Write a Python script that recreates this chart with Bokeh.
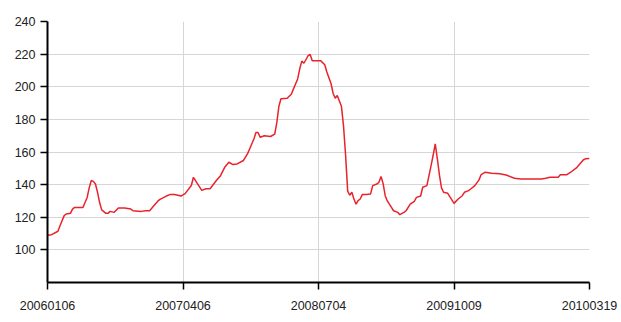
from bokeh.plotting import figure
from bokeh.models import FixedTicker, Range1d, ColumnDataSource
from bokeh.embed import file_html
from bokeh.resources import INLINE

# week index (0 = 20060106) and value
weeks = [0, 2, 5, 6, 8, 9, 11, 12, 13, 17, 18, 19, 20, 21, 22, 23, 24, 25, 26, 28,
         29, 30, 32, 34, 37, 40, 41, 45, 47, 49, 51, 53, 54, 57, 59, 61, 64, 66, 69, 70,
         72, 74, 76, 78, 81, 83, 85, 87, 89, 91, 94, 96, 97, 99, 100, 101, 102, 104, 107, 109,
         110, 111, 112, 115, 117, 118, 120, 121, 122, 123, 125, 126, 127, 129, 131, 133, 134, 136, 137, 138,
         139, 141, 142, 143, 144, 145, 146, 147, 148, 149, 150, 151, 153, 155, 156, 158, 159, 160, 161, 162,
         163, 165, 166, 168, 169, 171, 172, 174, 176, 177, 179, 180, 182, 183, 184, 185, 186, 187, 188, 189,
         190, 192, 193, 195, 197, 199, 200, 202, 203, 205, 207, 208, 210, 213, 217, 220, 224, 227, 237, 239,
         241, 245, 246, 249, 251, 254, 257, 258, 260]
values = [109, 109.3, 111.4, 114.8, 121, 122, 122.4, 125, 126, 126, 129, 132, 138, 142.5, 142, 140.4, 135.3, 129, 124.5, 122.4,
          122.4, 123.6, 123, 125.7, 125.7, 125, 124, 123.6, 124, 124, 127, 130, 131, 133, 134, 134, 133, 134.5, 139.5, 144.5,
          140.5, 136.5, 137.5, 137.5, 142.5, 145.5, 150.6, 153.7, 152.3, 152.7, 154.8, 159, 162, 168, 172, 172, 169, 170, 169.5, 171,
          178, 188, 192.6, 193, 195.6, 198.7, 204.8, 211, 215.7, 214.4, 219, 219.8, 216, 216, 216, 213.5, 209, 202, 196, 193,
          194.6, 188, 176, 158, 136, 133.5, 135.3, 131.2, 128, 130.2, 131.2, 133.9, 134, 134.3, 139.4, 140.4, 141.4, 145, 140.6, 133.2,
          130, 126, 124, 123, 121.6, 123, 124, 128, 129.8, 132.2, 133, 138.4, 139.4, 145.5, 151.7, 158, 165, 156, 146, 138,
          135.3, 134.7, 132.6, 128.5, 131.2, 133.2, 135.3, 136.3, 137.3, 139.4, 142.9, 146.1, 147.6, 147, 146.6, 145.9, 143.9, 143.5, 143.5, 143.9,
          144.5, 144.5, 146, 146, 147.6, 150.6, 155.1, 155.8, 156]

x_tick_pos = [0, 65, 130, 195, 260]
x_tick_labels = ["20060106", "20070406", "20080704", "20091009", "20100319"]
y_ticks = [100, 120, 140, 160, 180, 200, 220, 240]

src = ColumnDataSource(data=dict(week=weeks, value=values))

p = figure(width=621, height=322, output_backend="svg", toolbar_location=None,
           x_range=Range1d(0, 260), y_range=Range1d(80, 240),
           min_border_left=47, min_border_right=32, min_border_top=21, min_border_bottom=40)
p.outline_line_color = None
p.background_fill_color = "white"
p.border_fill_color = "white"

p.line("week", "value", source=src, line_color="#e8232b", line_width=1.5)

font = "Liberation Sans"
p.xaxis.ticker = FixedTicker(ticks=x_tick_pos)
p.xaxis.major_label_overrides = {k: v for k, v in zip(x_tick_pos, x_tick_labels)}
p.yaxis.ticker = FixedTicker(ticks=y_ticks)

for ax in (p.xaxis, p.yaxis):
    ax.axis_line_color = "black"
    ax.axis_line_width = 2
    ax.major_tick_line_color = "black"
    ax.major_tick_line_width = 1.5
    ax.major_tick_out = 7
    ax.major_tick_in = 0
    ax.minor_tick_line_color = None
    ax.major_label_text_font = font
    ax.major_label_text_font_size = "12.5px"
    ax.major_label_text_color = "#222222"
p.xaxis.major_label_standoff = 11
p.yaxis.major_label_standoff = 5

p.xgrid.ticker = FixedTicker(ticks=x_tick_pos)
p.ygrid.ticker = FixedTicker(ticks=y_ticks)
p.grid.grid_line_color = "#d6d6d6"
p.grid.grid_line_width = 1

open("out.html", "w").write(file_html(p, INLINE))
